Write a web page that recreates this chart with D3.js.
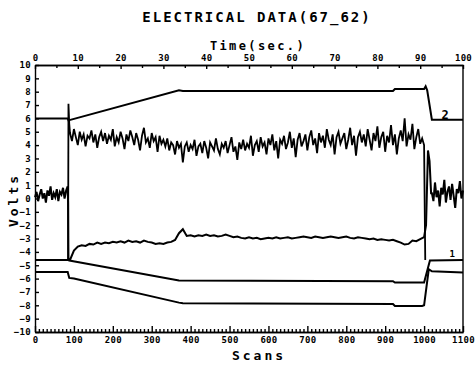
<!DOCTYPE html>
<html>
<head>
<meta charset="utf-8">
<script src="https://cdn.jsdelivr.net/npm/d3@7"></script>
<style>
  body { margin: 0; background: #fff; }
  text { font-family: "DejaVu Sans Mono", monospace; font-weight: bold; fill: #000; }
</style>
</head>
<body>
<svg id="chart" width="475" height="367"></svg>
<script>
// Axis ticks
const voltTicks = d3.range(-10, 11, 1);
const timeMajor = [0, 10, 20, 30, 40, 50, 60, 70, 80, 90, 100];
const timeMinor = [5, 15, 25, 35, 45, 55, 65, 75, 85, 95];
const scanMajor = [0, 100, 200, 300, 400, 500, 600, 700, 800, 900, 1000, 1100];
const scanMinor = d3.range(10, 1100, 10).filter(d => d % 100 !== 0);

// Channel 2 (top smooth line), [scan, volts]
const ch2 = [[0, 6.0], [84, 6.0], [86, 5.85], [370, 8.1], [380, 8.05], [920, 8.05], [925, 8.2],
  [1000, 8.2], [1004, 8.4], [1008, 8.1], [1020, 5.9], [1100, 5.9]];

// Channel 1 (middle smooth line)
const ch1 = [[0, -4.6], [84, -4.6], [88, -4.65], [370, -6.15], [920, -6.2], [925, -6.3],
  [1000, -6.3], [1015, -4.65], [1100, -4.6]];

// lowest smooth line
const ch3 = [[0, -5.5], [84, -5.5], [88, -5.95], [100, -6.0], [370, -7.8], [380, -7.85], [920, -7.9],
  [925, -8.05], [995, -8.05], [1000, -8.0], [1012, -5.3], [1020, -5.45], [1100, -5.55]];

// upper noisy trace, scans 90..995 every 5
const upperStart = 90, upperStep = 5;
const upperVals = [
  4.9, 4.3, 5.2, 4.6, 4.0, 5.0, 4.4, 4.8, 3.9, 4.7,
  4.5, 5.1, 4.2, 4.8, 3.8, 4.6, 5.0, 4.3, 4.9, 4.1,
  4.7, 4.4, 5.2, 3.9, 4.6, 4.2, 5.0, 4.5, 3.7, 4.8,
  4.3, 5.1, 4.6, 4.0, 4.9, 4.4, 3.6, 4.7, 5.3, 4.2,
  4.5, 3.8, 4.9, 4.3, 4.6, 3.5, 4.7, 4.1, 4.4, 3.9,
  4.5, 3.6, 4.2, 4.0, 3.3, 4.3, 3.8, 4.1, 2.7, 3.9,
  4.2, 3.5, 4.0, 3.7, 4.4, 3.2, 3.9, 4.1, 3.4, 4.3,
  3.8, 3.0, 4.2, 3.9, 3.6, 4.5, 3.7, 3.3, 4.1, 3.8,
  4.3, 3.4, 4.0, 4.6, 3.5, 3.9, 2.9, 4.2, 3.7, 4.4,
  3.6, 4.1, 3.8, 4.7, 3.2, 4.0, 4.3, 3.5, 4.6, 3.9,
  4.2, 3.3, 4.5, 4.0, 4.8, 3.6, 4.3, 3.0, 4.4, 4.1,
  4.7, 3.7, 4.2, 5.0, 3.8, 4.5, 3.1, 4.4, 4.9, 3.9,
  4.3, 4.8, 3.6, 4.6, 5.1, 4.0, 4.5, 3.4, 4.9, 4.2,
  4.7, 3.8, 5.2, 4.4, 4.0, 4.8, 3.3, 4.6, 5.0, 4.1,
  4.5, 4.9, 3.7, 4.4, 5.3, 4.0, 4.7, 3.2, 4.6, 5.0,
  4.2, 4.8, 3.9, 5.2, 4.4, 3.6, 4.9, 4.3, 5.4, 3.8,
  4.6, 5.0, 3.5, 4.7, 4.2, 5.5, 4.0, 4.8, 3.3, 4.5,
  5.1, 4.3, 6.0, 3.9, 4.8, 4.4, 5.6, 3.7, 4.6, 5.2,
  4.1, 4.5
];
const upperHead = [[85, -4.6], [86, 7.1], [88, 5.6]];
const upperTail = [[1000, 4.0], [1003, -4.6]];

// lower noisy trace
const lowerPreStart = 0, lowerPreStep = 4;
const lowerPre = [0.1, 0.5, -0.2, 0.3, 0.7, 0.0, 0.4, -0.3, 0.6, 0.2, 0.9,
  -0.1, 0.4, 0.1, 0.7, -0.2, 0.5, 0.3, 0.8, 0.0, 0.6, 0.9];
const lowerDrop = [[85, -0.3], [86, -4.6]];
const lowerMidStart = 90, lowerMidStep = 10;
const lowerMid = [
  -4.6, -3.9, -3.6, -3.5, -3.55, -3.4, -3.45, -3.3, -3.4, -3.3,
  -3.35, -3.25, -3.3, -3.2, -3.3, -3.15, -3.25, -3.2, -3.3, -3.15,
  -3.25, -3.3, -3.4, -3.35, -3.4, -3.3, -3.25, -3.1, -2.6, -2.3,
  -2.8, -2.75, -2.85, -2.75, -2.8, -2.7, -2.8, -2.75, -2.85, -2.8,
  -2.7, -2.8, -2.9, -2.85, -2.95, -3.0, -2.9, -3.0, -2.95, -3.05,
  -3.0, -2.95, -3.0, -2.9, -3.0, -2.95, -2.9, -3.0, -2.95, -2.9,
  -2.85, -2.9, -2.95, -2.85, -2.9, -2.95, -2.9, -2.85, -2.9, -2.95,
  -2.9, -2.85, -2.95, -3.0, -2.9, -2.95, -3.0, -3.05, -3.0, -3.1,
  -3.05, -3.1, -3.15, -3.1, -3.2, -3.3, -3.45, -3.4, -3.15, -3.2,
  -3.05, -2.9
];
const lowerSpike = [[1005, -2.0], [1010, 3.6], [1014, 2.8], [1018, 0.4]];
const lowerPostStart = 1020, lowerPostStep = 4;
const lowerPost = [0.4, -0.2, 1.2, 0.1, 0.6, -0.6, 0.8, 0.3, 1.4, -0.3, 0.5,
  0.9, -0.1, 1.1, 0.2, -0.7, 0.7, 0.4, 1.3, 0.0, 0.6];

// channel labels
const channelLabels = [
  { text: "2", scan: 1054, volts: 5.95, size: 12 },
  { text: "1", scan: 1072, volts: -4.4, size: 9 }
];

function stepped(start, step, vals) {
  return vals.map((v, i) => [start + i * step, v]);
}

const upperTrace = upperHead.concat(stepped(upperStart, upperStep, upperVals), upperTail);
const lowerTrace = stepped(lowerPreStart, lowerPreStep, lowerPre).concat(
  lowerDrop, stepped(lowerMidStart, lowerMidStep, lowerMid), lowerSpike,
  stepped(lowerPostStart, lowerPostStep, lowerPost));

const margin = { top: 65, right: 12, bottom: 35, left: 35 };
const width = 475 - margin.left - margin.right;
const height = 367 - margin.top - margin.bottom;

const svg = d3.select("#chart");
const g = svg.append("g").attr("transform", `translate(${margin.left},${margin.top})`);

const x = d3.scaleLinear().domain([0, 1100]).range([0, width]);
const xt = d3.scaleLinear().domain([0, 100]).range([0, width]);
const y = d3.scaleLinear().domain([-10, 10]).range([height, 0]);

// titles
svg.append("text").attr("x", 257).attr("y", 22).attr("text-anchor", "middle")
  .style("font-size", "14px").style("letter-spacing", "2px").text("ELECTRICAL DATA(67_62)");
svg.append("text").attr("x", 258).attr("y", 50).attr("text-anchor", "middle")
  .style("font-size", "12px").style("letter-spacing", "2.4px").text("Time(sec.)");
svg.append("text").attr("x", 259).attr("y", 360).attr("text-anchor", "middle")
  .style("font-size", "13px").style("letter-spacing", "3px").text("Scans");
svg.append("text").attr("transform", "translate(18,200) rotate(-90)").attr("text-anchor", "middle")
  .style("font-size", "13px").style("letter-spacing", "3px").text("Volts");

// axes
const tickFont = sel => sel.selectAll("text").style("font-size", "9px").style("letter-spacing", "0.3px");

g.append("g")
  .call(d3.axisLeft(y).tickValues(voltTicks).tickSize(-4).tickSizeOuter(0).tickPadding(4).tickFormat(d3.format("d")))
  .call(tickFont);

g.append("g")
  .call(d3.axisTop(xt).tickValues(timeMajor).tickSize(-4).tickSizeOuter(0).tickPadding(4).tickFormat(d3.format("d")))
  .call(tickFont);
g.append("g")
  .call(d3.axisTop(xt).tickValues(timeMinor).tickSize(-3).tickSizeOuter(0).tickFormat(""));

g.append("g").attr("transform", `translate(0,${height})`)
  .call(d3.axisBottom(x).tickValues(scanMajor).tickSize(-6).tickSizeOuter(0).tickPadding(5).tickFormat(d3.format("d")))
  .call(tickFont);
g.append("g").attr("transform", `translate(0,${height})`)
  .call(d3.axisBottom(x).tickValues(scanMinor).tickSize(-3).tickSizeOuter(0).tickFormat(""));

g.append("line").attr("x1", width).attr("x2", width).attr("y1", 0).attr("y2", height);

g.selectAll(".domain, .tick line, line").attr("stroke", "#000").attr("stroke-width", 1.4);

// traces
const line = d3.line().x(d => x(d[0])).y(d => y(d[1]));
[ch2, ch1, ch3].forEach(data => {
  g.append("path").datum(data).attr("fill", "none").attr("stroke", "#000")
    .attr("stroke-width", 2).attr("d", line);
});
g.append("path").datum(upperTrace).attr("fill", "none").attr("stroke", "#000")
  .attr("stroke-width", 1.8).attr("d", line);
g.append("path").datum(lowerTrace).attr("fill", "none").attr("stroke", "#000")
  .attr("stroke-width", 2).attr("d", line);

g.selectAll(".chlabel").data(channelLabels).enter().append("text")
  .attr("x", d => x(d.scan)).attr("y", d => y(d.volts))
  .attr("text-anchor", "middle").style("font-size", d => d.size + "px").text(d => d.text);
</script>
</body>
</html>
